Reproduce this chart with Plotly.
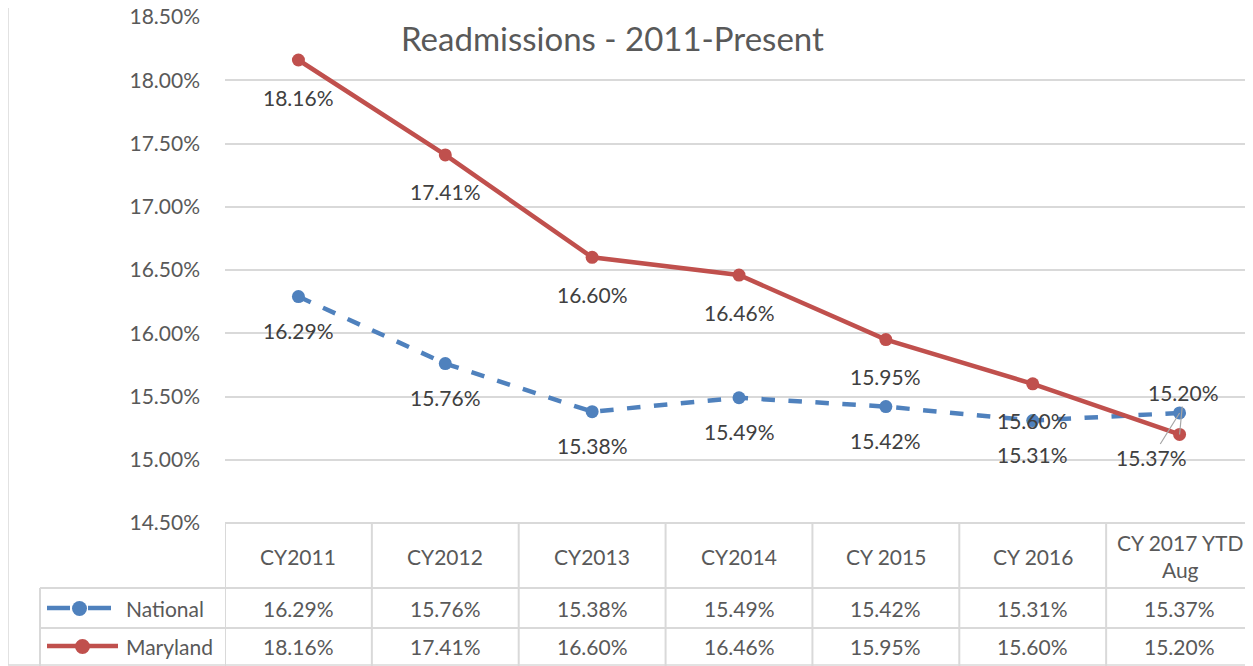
import plotly.graph_objects as go

categories = ["CY2011", "CY2012", "CY2013", "CY2014", "CY 2015", "CY 2016", "CY 2017 YTD<br>Aug"]
national = [16.29, 15.76, 15.38, 15.49, 15.42, 15.31, 15.37]
maryland = [18.16, 17.41, 16.60, 16.46, 15.95, 15.60, 15.20]
y_ticks = [14.5, 15.0, 15.5, 16.0, 16.5, 17.0, 17.5, 18.0, 18.5]

BLUE = "#4F81BD"
RED = "#C0504D"
TXT = "#595959"
GRID = "#D9D9D9"
FONT = "Lato"

# the page puts the figure 8px in from the top-left corner
OFF = 8
W, H = 1253 - OFF, 666 - OFF
L, R, T, B = 225 - OFF, 0, 17 - OFF, 666 - 523
PW, PH = W - L - R, H - T - B


def px(x):
    # screen pixel -> paper x
    return (x - OFF - L) / PW


def py(y):
    # screen pixel -> paper y
    return (H - B - (y - OFF)) / PH


xs = list(range(len(categories)))
n = len(categories)

fig = go.Figure()
fig.add_trace(go.Scatter(
    x=xs, y=national, name="National", mode="lines+markers",
    line=dict(color=BLUE, width=4.5, dash="dash"),
    marker=dict(size=13, color=BLUE),
))
fig.add_trace(go.Scatter(
    x=xs, y=maryland, name="Maryland", mode="lines+markers",
    line=dict(color=RED, width=4.5),
    marker=dict(size=13, color=RED),
))

annotations = [dict(
    text="Readmissions - 2011-Present", xref="paper", yref="paper",
    x=px(612), y=py(38), xanchor="center", yanchor="middle", showarrow=False,
    font=dict(family=FONT, size=33, color=TXT),
)]

label_font = dict(family=FONT, size=21, color="#404040")
# data labels, mostly below the points; the last pair uses leader lines
for i in range(n):
    if i < n - 1:
        annotations.append(dict(x=i, y=maryland[i], text=f"{maryland[i]:.2f}%",
                                showarrow=False, yshift=-37, font=label_font))
        annotations.append(dict(x=i, y=national[i], text=f"{national[i]:.2f}%",
                                showarrow=False, yshift=-34, font=label_font))
    else:
        annotations.append(dict(x=i, y=maryland[i], text=f"{maryland[i]:.2f}%",
                                showarrow=True, arrowhead=0, arrowwidth=1.2,
                                arrowcolor="#A6A6A6", ax=4, ay=-42, font=label_font))
        annotations.append(dict(x=i, y=national[i], text=f"{national[i]:.2f}%",
                                showarrow=True, arrowhead=0, arrowwidth=1.2,
                                arrowcolor="#A6A6A6", ax=-28, ay=45, font=label_font))

# data table text
table_font = dict(family=FONT, size=21, color=TXT)
for i, c in enumerate(categories):
    for text, yy in ((c, 556), (f"{national[i]:.2f}%", 608), (f"{maryland[i]:.2f}%", 646)):
        annotations.append(dict(x=i, y=py(yy), yref="paper", text=text, showarrow=False,
                                xanchor="center", yanchor="middle", font=table_font))
for name, yy in (("National", 608), ("Maryland", 646)):
    annotations.append(dict(x=px(124), y=py(yy), xref="paper", yref="paper", text=name,
                            xanchor="left", yanchor="middle", showarrow=False, font=table_font))

shapes = []
line_style = dict(color=GRID, width=2)
# outer chart border
shapes.append(dict(type="rect", xref="paper", yref="paper", x0=px(8), x1=px(1252),
                   y0=py(665), y1=py(3), line=dict(color=GRID, width=1.5)))
# table horizontal lines
shapes.append(dict(type="line", xref="paper", yref="paper", x0=0, x1=1, y0=0, y1=0, line=line_style))
for yy in (588, 628):
    shapes.append(dict(type="line", xref="paper", yref="paper", x0=px(40), x1=1,
                       y0=py(yy), y1=py(yy), line=line_style))
# table vertical lines
shapes.append(dict(type="line", xref="paper", yref="paper", x0=px(40), x1=px(40),
                   y0=py(588), y1=py(666), line=line_style))
for i in range(n + 1):
    shapes.append(dict(type="line", xref="x", yref="paper", x0=i - 0.5, x1=i - 0.5,
                       y0=0, y1=py(666), line=line_style))
# legend keys
for x0, x1 in ((47, 70), (88, 111)):
    shapes.append(dict(type="line", xref="paper", yref="paper", x0=px(x0), x1=px(x1),
                       y0=py(608), y1=py(608), line=dict(color=BLUE, width=4.5)))
shapes.append(dict(type="circle", xref="paper", yref="paper", x0=px(72), x1=px(87),
                   y0=py(616), y1=py(601), fillcolor=BLUE, line=dict(width=0)))
shapes.append(dict(type="line", xref="paper", yref="paper", x0=px(47), x1=px(118),
                   y0=py(646), y1=py(646), line=dict(color=RED, width=4.5)))
shapes.append(dict(type="circle", xref="paper", yref="paper", x0=px(75), x1=px(90),
                   y0=py(654), y1=py(639), fillcolor=RED, line=dict(width=0)))

fig.update_layout(
    width=W, height=H,
    margin=dict(l=L, r=R, t=T, b=B, autoexpand=False),
    paper_bgcolor="white", plot_bgcolor="white",
    showlegend=False,
    xaxis=dict(range=[-0.5, n - 0.5], showticklabels=False, showgrid=False,
               zeroline=False, fixedrange=True, automargin=False),
    yaxis=dict(range=[14.5, 18.5], tickvals=y_ticks,
               ticktext=[f"{v:.2f}%" for v in y_ticks],
               gridcolor=GRID, gridwidth=1.5, zeroline=False, ticks="",
               ticklabelstandoff=24, ticklabeloverflow="allow", automargin=False,
               tickfont=dict(family=FONT, size=21, color=TXT)),
    annotations=annotations,
    shapes=shapes,
)

fig.write_html("out.html")
